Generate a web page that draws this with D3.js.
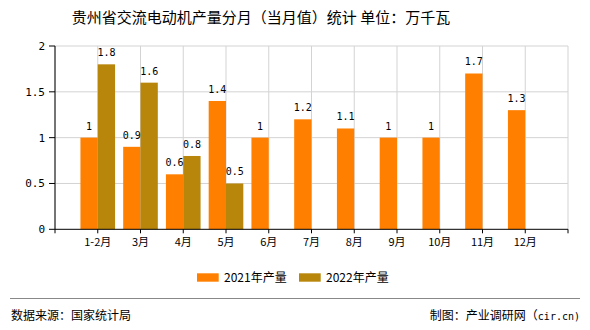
<!DOCTYPE html>
<html><head><meta charset="utf-8">
<script src="https://cdn.jsdelivr.net/npm/d3@7"></script>
<style>body{margin:0;background:#fff}svg{display:block}</style>
</head><body>
<svg id="c" width="590" height="330"></svg>
<script>
const categories = ["1-2月","3月","4月","5月","6月","7月","8月","9月","10月","11月","12月"];
const values2021 = [1, 0.9, 0.6, 1.4, 1, 1.2, 1.1, 1, 1, 1.7, 1.3];
const values2022 = [1.8, 1.6, 0.8, 0.5, null, null, null, null, null, null, null];
const seriesNames = ["2021年产量", "2022年产量"];
const yTicks = [0, 0.5, 1, 1.5, 2];
const colors = ["#FF8000", "#B8860B"];

const svg = d3.select("#c");
const L = 55, R = 568, T = 46, B = 229.3;
const x = d3.scalePoint().domain(categories).range([L, R]).padding(1);
const y = d3.scaleLinear().domain([0, 2]).range([B, T]);
const step = x.step();
const barW = step * 0.405;
const mono = "'DejaVu Sans Mono', monospace";
const cjk = "'Noto Sans CJK SC', sans-serif";

// title
svg.append("text").attr("x", 261).attr("y", 23).attr("text-anchor", "middle")
  .attr("font-family", cjk).attr("font-size", 15).attr("fill", "#000")
  .text("贵州省交流电动机产量分月（当月值）统计 单位：万千瓦");

// grid
const g = svg.append("g");
g.selectAll(".vg").data(d3.range(0, categories.length + 2)).join("line")
  .attr("x1", i => L + i * step).attr("x2", i => L + i * step)
  .attr("y1", T).attr("y2", B).attr("stroke", "#d3d3d3").attr("stroke-width", 1);
g.selectAll(".hg").data(yTicks.filter(v => v > 0)).join("line")
  .attr("x1", L).attr("x2", R).attr("y1", d => y(d)).attr("y2", d => y(d))
  .attr("stroke", "#d3d3d3").attr("stroke-width", 1);

// bars
const data = categories.map((c, i) => ({c, a: values2021[i], b: values2022[i]}));
svg.append("g").selectAll("rect").data(data).join("rect")
  .attr("x", d => x(d.c) - barW).attr("width", barW)
  .attr("y", d => y(d.a)).attr("height", d => B - y(d.a)).attr("fill", colors[0]);
svg.append("g").selectAll("rect").data(data.filter(d => d.b != null)).join("rect")
  .attr("x", d => x(d.c)).attr("width", barW)
  .attr("y", d => y(d.b)).attr("height", d => B - y(d.b)).attr("fill", colors[1]);

// value labels
const lab = svg.append("g").attr("font-family", mono).attr("font-size", 10).attr("fill", "#000").attr("text-anchor", "middle");
lab.selectAll(".la").data(data).join("text")
  .attr("x", d => x(d.c) - barW / 2).attr("y", d => y(d.a) - 8).text(d => d.a);
lab.selectAll(".lb").data(data.filter(d => d.b != null)).join("text")
  .attr("x", d => x(d.c) + barW / 2).attr("y", d => y(d.b) - 8).text(d => d.b);

// axes
const ax = svg.append("g");
ax.append("line").attr("x1", L).attr("x2", L).attr("y1", T).attr("y2", B).attr("stroke", "#000");
ax.append("line").attr("x1", L).attr("x2", R).attr("y1", B).attr("y2", B).attr("stroke", "#000");
ax.selectAll(".yt").data(yTicks).join("line")
  .attr("x1", L - 6).attr("x2", L).attr("y1", d => y(d)).attr("y2", d => y(d)).attr("stroke", "#000");
ax.selectAll(".ytl").data(yTicks).join("text")
  .attr("x", L - 10).attr("y", d => y(d) + 4).attr("text-anchor", "end")
  .attr("font-family", mono).attr("font-size", 11).attr("fill", "#000").text(d => d);
ax.selectAll(".xt").data(d3.range(0, categories.length + 2)).join("line")
  .attr("x1", i => L + i * step).attr("x2", i => L + i * step)
  .attr("y1", B).attr("y2", B + 4).attr("stroke", "#000");
ax.selectAll(".xtl").data(categories).join("text")
  .attr("x", d => x(d)).attr("y", B + 17).attr("text-anchor", "middle")
  .attr("font-family", cjk).attr("font-size", 11).attr("fill", "#000").text(d => d);

// legend
const lg = svg.append("g");
const legX = [197, 299];
seriesNames.forEach((n, i) => {
  lg.append("rect").attr("x", legX[i]).attr("y", 273.3).attr("width", 21.7).attr("height", 8.4).attr("fill", colors[i]);
  lg.append("text").attr("x", legX[i] + 27).attr("y", 282).attr("font-family", cjk).attr("font-size", 12).attr("fill", "#000").text(n);
});

// footer
svg.append("line").attr("x1", 10).attr("x2", 580).attr("y1", 298.5).attr("y2", 298.5).attr("stroke", "#888").attr("stroke-width", 1);
svg.append("text").attr("x", 11).attr("y", 320).attr("font-family", cjk).attr("font-size", 12).attr("fill", "#000").text("数据来源：国家统计局");
const ft = svg.append("text").attr("x", 580).attr("y", 320).attr("text-anchor", "end").attr("font-size", 12).attr("fill", "#000");
ft.append("tspan").attr("font-family", cjk).text("制图：产业调研网（");
ft.append("tspan").attr("font-family", mono).attr("font-size", 10).text("cir.cn)");
</script>
</body></html>
